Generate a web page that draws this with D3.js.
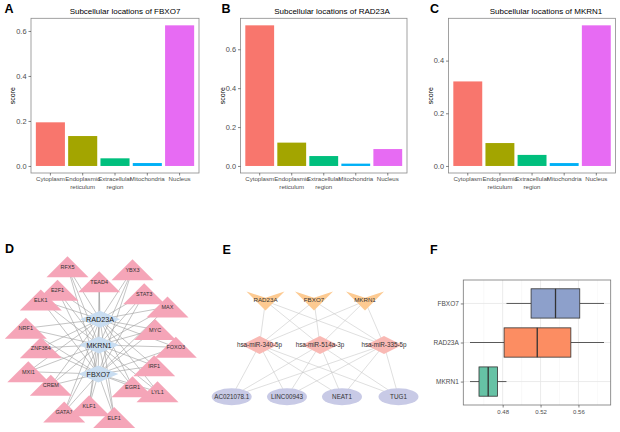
<!DOCTYPE html>
<html>
<head>
<meta charset="utf-8">
<script src="https://cdn.jsdelivr.net/npm/d3@7"></script>
<style>
  body { margin: 0; background: #fff; }
  text { font-family: "Liberation Sans", Arial, sans-serif; }
</style>
</head>
<body>
<svg width="620" height="432"></svg>
<script>
// ---- data: subcellular location scores (A-C)
var locations = ["Cytoplasm", "Endoplasmic reticulum", "Extracellular region", "Mitochondria", "Nucleus"];
var scoreFBXO7  = [0.194, 0.133, 0.034, 0.013, 0.625];
var scoreRAD23A = [0.723, 0.120, 0.051, 0.012, 0.087];
var scoreMKRN1  = [0.321, 0.087, 0.042, 0.011, 0.534];
var barColors = ["#F8766D", "#A3A500", "#00BF7D", "#00B0F6", "#E76BF3"];

// ---- D: TF - hub gene network (layout units, panel-relative)
var hubNames = ["RAD23A", "MKRN1", "FBXO7"];
var hubX = [100, 99, 98.3];
var hubY = [69.3, 95, 124];
var tfNames = ["RFX5", "YBX3", "E2F1", "ELK1", "TEAD4", "STAT3", "MAX", "NRF1", "MYC", "ZNF384", "FOXO3",
               "IRF1", "MXI1", "CREM", "LYL1", "EGR1", "GATA1", "KLF1", "ELF1"];
var tfX = [67.5, 132.5, 57.5, 40.8, 99.2, 144.2, 167.5, 25.8, 155, 40.8, 175.8,
           154.2, 28.3, 50.8, 157.5, 132.5, 64.2, 89.2, 114.2];
var tfY = [16.7, 19.7, 40.3, 50, 31.7, 43.7, 57, 78.3, 79.5, 97.8, 97.2,
           115.8, 121.7, 135.3, 141.7, 136.7, 162, 155.8, 167.5];

// ---- E: ceRNA network
var mrnaNames = ["RAD23A", "FBXO7", "MKRN1"];
var mrnaX = [265.5, 314, 365];
var mirNames = ["hsa-miR-340-5p", "hsa-miR-514a-3p", "hsa-miR-335-5p"];
var mirX = [259.5, 320, 384];
var lncNames = ["AC021078.1", "LINC00943", "NEAT1", "TUG1"];
var lncX = [231.7, 287, 342, 398.5];
var rowY = [51, 95, 146.7];  // mRNA, miRNA, lncRNA rows

// ---- F: boxplot stats [whiskerLow, Q1, median, Q3, whiskerHigh]
var boxGenes = ["FBXO7", "RAD23A", "MKRN1"];
var boxStats = [
  [0.484, 0.510, 0.5358, 0.5614, 0.587],
  [0.4455, 0.4815, 0.5165, 0.552, 0.587],
  [0.4455, 0.455, 0.4647, 0.4745, 0.484]
];
var boxColors = ["#8DA0CB", "#FC8D62", "#66C2A5"];
var boxTicks = [0.48, 0.52, 0.56];
var boxMinor = [0.46, 0.50, 0.54, 0.58];

var svg = d3.select("svg");
var font = "Liberation Sans, Arial, sans-serif";

function panelLetter(x, y, t) {
  svg.append("text").attr("x", x).attr("y", y).attr("font-size", 12.5)
    .attr("font-weight", "bold").attr("fill", "#000").text(t);
}

// ---------------- bar charts
function barChart(left, right, title, titleX, values) {
  var top = 18.3, bottom = 173;
  var max = d3.max(values);
  var x = d3.scaleBand().domain(locations).range([left, right]).paddingInner(0.1).paddingOuter(0.15);
  var y = d3.scaleLinear().domain([-0.05 * max, 1.05 * max]).range([bottom, top]);
  var g = svg.append("g");

  g.selectAll(".bar").data(values).enter().append("rect")
    .attr("x", function(d, i) { return x(locations[i]); })
    .attr("width", x.bandwidth())
    .attr("y", function(d) { return y(d); })
    .attr("height", function(d) { return y(0) - y(d); })
    .attr("fill", function(d, i) { return barColors[i]; });

  g.append("rect").attr("x", left).attr("y", top).attr("width", right - left).attr("height", bottom - top)
    .attr("fill", "none").attr("stroke", "#8a8a8a").attr("stroke-width", 0.8);

  var yAx = g.append("g").attr("transform", "translate(" + left + ",0)")
    .call(d3.axisLeft(y).tickValues(d3.range(0, max + 0.001, 0.2)).tickSize(2.5).tickPadding(2)
      .tickFormat(d3.format(".1f")));
  yAx.select(".domain").remove();
  yAx.selectAll("line").attr("stroke", "#333").attr("stroke-width", 0.6);
  yAx.selectAll("text").attr("font-size", 7.4).attr("fill", "#4d4d4d").attr("font-family", font);

  var xAx = g.append("g").attr("transform", "translate(0," + bottom + ")")
    .call(d3.axisBottom(x).tickSize(2.5).tickFormat(""));
  xAx.select(".domain").remove();
  xAx.selectAll("line").attr("stroke", "#333").attr("stroke-width", 0.6);
  locations.forEach(function(name) {
    var parts = name.split(" ");
    var t = g.append("text").attr("x", x(name) + x.bandwidth() / 2).attr("y", 181)
      .attr("text-anchor", "middle").attr("font-size", 6.1).attr("fill", "#4d4d4d");
    parts.forEach(function(p, k) {
      t.append("tspan").attr("x", x(name) + x.bandwidth() / 2).attr("dy", k === 0 ? 0 : 7.8).text(p);
    });
  });

  g.append("text").attr("transform", "translate(" + (left - 16) + "," + ((top + bottom) / 2) + ") rotate(-90)")
    .attr("text-anchor", "middle").attr("font-size", 7).attr("fill", "#000").text("score");
  g.append("text").attr("x", titleX).attr("y", 14.3).attr("text-anchor", "middle")
    .attr("font-size", 8).attr("fill", "#000").text(title);
}

barChart(31, 199, "Subcellular locations of FBXO7", 125, scoreFBXO7);
barChart(240.5, 407, "Subcellular locations of RAD23A", 332, scoreRAD23A);
barChart(448.5, 615.6, "Subcellular locations of MKRN1", 546, scoreMKRN1);
panelLetter(4.5, 13, "A");
panelLetter(221.5, 13, "B");
panelLetter(430, 13, "C");

// ---------------- D network
var dx = d3.scaleLinear().domain([0, 200]).range([0, 200]);
var dy = d3.scaleLinear().domain([0, 180]).range([250, 430]);
var gD = svg.append("g");
tfNames.forEach(function(n, i) {
  hubNames.forEach(function(h, j) {
    gD.append("line").attr("x1", dx(tfX[i])).attr("y1", dy(tfY[i]))
      .attr("x2", dx(hubX[j])).attr("y2", dy(hubY[j]))
      .attr("stroke", "#9c9c9c").attr("stroke-width", 0.6);
  });
});
tfNames.forEach(function(n, i) {
  var cx = dx(tfX[i]), cy = dy(tfY[i]), w = 21, h = 10.5;
  gD.append("path")
    .attr("d", d3.line()([[cx - w, cy + h], [cx + w, cy + h], [cx, cy - h]]) + "Z")
    .attr("fill", "#f5a5b8");
  gD.append("text").attr("x", cx).attr("y", cy + 2).attr("text-anchor", "middle")
    .attr("font-size", 5.5).attr("fill", "#333").text(n);
});
hubNames.forEach(function(n, j) {
  var cx = dx(hubX[j]), cy = dy(hubY[j]), w = 20, h = 8.5;
  gD.append("path")
    .attr("d", d3.line()([[cx - w, cy], [cx, cy - h], [cx + w, cy], [cx, cy + h]]) + "Z")
    .attr("fill", "#c9ddf1");
  gD.append("text").attr("x", cx).attr("y", cy + 2.5).attr("text-anchor", "middle")
    .attr("font-size", 7.2).attr("fill", "#222").text(n);
});
panelLetter(5, 253, "D");

// ---------------- E network
var ey = d3.scaleLinear().domain([0, 180]).range([250, 430]);
var gE = svg.append("g");
var edgeE = "#c4c4c4";
mrnaX.forEach(function(mx) {
  mirX.forEach(function(qx) {
    gE.append("line").attr("x1", mx).attr("y1", ey(rowY[0])).attr("x2", qx).attr("y2", ey(rowY[1]))
      .attr("stroke", edgeE).attr("stroke-width", 0.55);
  });
});
mirX.forEach(function(qx) {
  lncX.forEach(function(lx) {
    gE.append("line").attr("x1", qx).attr("y1", ey(rowY[1])).attr("x2", lx).attr("y2", ey(rowY[2]))
      .attr("stroke", edgeE).attr("stroke-width", 0.55);
  });
});
mrnaNames.forEach(function(n, i) {
  var cx = mrnaX[i], cy = ey(rowY[0]), w = 19, h = 9.5;
  gE.append("path")
    .attr("d", d3.line()([[cx - w, cy - h], [cx, cy - h / 3], [cx + w, cy - h], [cx, cy + h]]) + "Z")
    .attr("fill", "#fdca91");
  gE.append("text").attr("x", cx).attr("y", cy + 1).attr("text-anchor", "middle")
    .attr("font-size", 6.2).attr("fill", "#333").text(n);
});
mirNames.forEach(function(n, i) {
  var cx = mirX[i], cy = ey(rowY[1]), w = 18, h = 9;
  gE.append("path")
    .attr("d", d3.line()([[cx - w, cy], [cx, cy - h], [cx + w, cy], [cx, cy + h]]) + "Z")
    .attr("fill", "#f9b9b4");
  gE.append("text").attr("x", cx).attr("y", cy + 2).attr("text-anchor", "middle")
    .attr("font-size", 6.3).attr("fill", "#333").text(n);
});
lncNames.forEach(function(n, i) {
  var cx = lncX[i], cy = ey(rowY[2]);
  gE.append("ellipse").attr("cx", cx).attr("cy", cy).attr("rx", 20).attr("ry", 8.5).attr("fill", "#c8cae6");
  gE.append("text").attr("x", cx).attr("y", cy + 2).attr("text-anchor", "middle")
    .attr("font-size", 6.3).attr("fill", "#333").text(n);
});
panelLetter(222.5, 254, "E");

// ---------------- F boxplot
var fL = 463.3, fR = 610.7, fT = 280, fB = 405;
var allVals = d3.merge(boxStats);
var lo = d3.min(allVals), hi = d3.max(allVals), pad = (hi - lo) * 0.05;
var fx = d3.scaleLinear().domain([lo - pad, hi + pad]).range([fL, fR]);
var fy = d3.scalePoint().domain(boxGenes).range([fT, fB]).padding(0.6);
var bh = fy.step() * 0.75;
var gF = svg.append("g");
boxMinor.forEach(function(v) {
  gF.append("line").attr("x1", fx(v)).attr("x2", fx(v)).attr("y1", fT).attr("y2", fB)
    .attr("stroke", "#f2f2f2").attr("stroke-width", 0.5);
});
boxTicks.forEach(function(v) {
  gF.append("line").attr("x1", fx(v)).attr("x2", fx(v)).attr("y1", fT).attr("y2", fB)
    .attr("stroke", "#e6e6e6").attr("stroke-width", 0.8);
});
boxGenes.forEach(function(gn) {
  gF.append("line").attr("x1", fL).attr("x2", fR).attr("y1", fy(gn)).attr("y2", fy(gn))
    .attr("stroke", "#e6e6e6").attr("stroke-width", 0.8);
});
boxGenes.forEach(function(gn, i) {
  var s = boxStats[i], cy = fy(gn);
  gF.append("line").attr("x1", fx(s[0])).attr("x2", fx(s[1])).attr("y1", cy).attr("y2", cy)
    .attr("stroke", "#333").attr("stroke-width", 0.8);
  gF.append("line").attr("x1", fx(s[3])).attr("x2", fx(s[4])).attr("y1", cy).attr("y2", cy)
    .attr("stroke", "#333").attr("stroke-width", 0.8);
  gF.append("rect").attr("x", fx(s[1])).attr("y", cy - bh / 2).attr("width", fx(s[3]) - fx(s[1]))
    .attr("height", bh).attr("fill", boxColors[i]).attr("stroke", "#333").attr("stroke-width", 0.8);
  gF.append("line").attr("x1", fx(s[2])).attr("x2", fx(s[2])).attr("y1", cy - bh / 2).attr("y2", cy + bh / 2)
    .attr("stroke", "#333").attr("stroke-width", 1.3);
});
gF.append("rect").attr("x", fL).attr("y", fT).attr("width", fR - fL).attr("height", fB - fT)
  .attr("fill", "none").attr("stroke", "#777").attr("stroke-width", 0.8);
var fxAx = gF.append("g").attr("transform", "translate(0," + fB + ")")
  .call(d3.axisBottom(fx).tickValues(boxTicks).tickSize(2.5).tickPadding(2).tickFormat(d3.format(".2f")));
fxAx.select(".domain").remove();
fxAx.selectAll("line").attr("stroke", "#333").attr("stroke-width", 0.6);
fxAx.selectAll("text").attr("font-size", 6).attr("fill", "#4d4d4d").attr("font-family", font);
var fyAx = gF.append("g").attr("transform", "translate(" + fL + ",0)")
  .call(d3.axisLeft(fy).tickSize(2.5).tickPadding(2));
fyAx.select(".domain").remove();
fyAx.selectAll("line").attr("stroke", "#333").attr("stroke-width", 0.6);
fyAx.selectAll("text").attr("font-size", 6.5).attr("fill", "#4d4d4d").attr("font-family", font);
panelLetter(430, 254, "F");
</script>
</body>
</html>
